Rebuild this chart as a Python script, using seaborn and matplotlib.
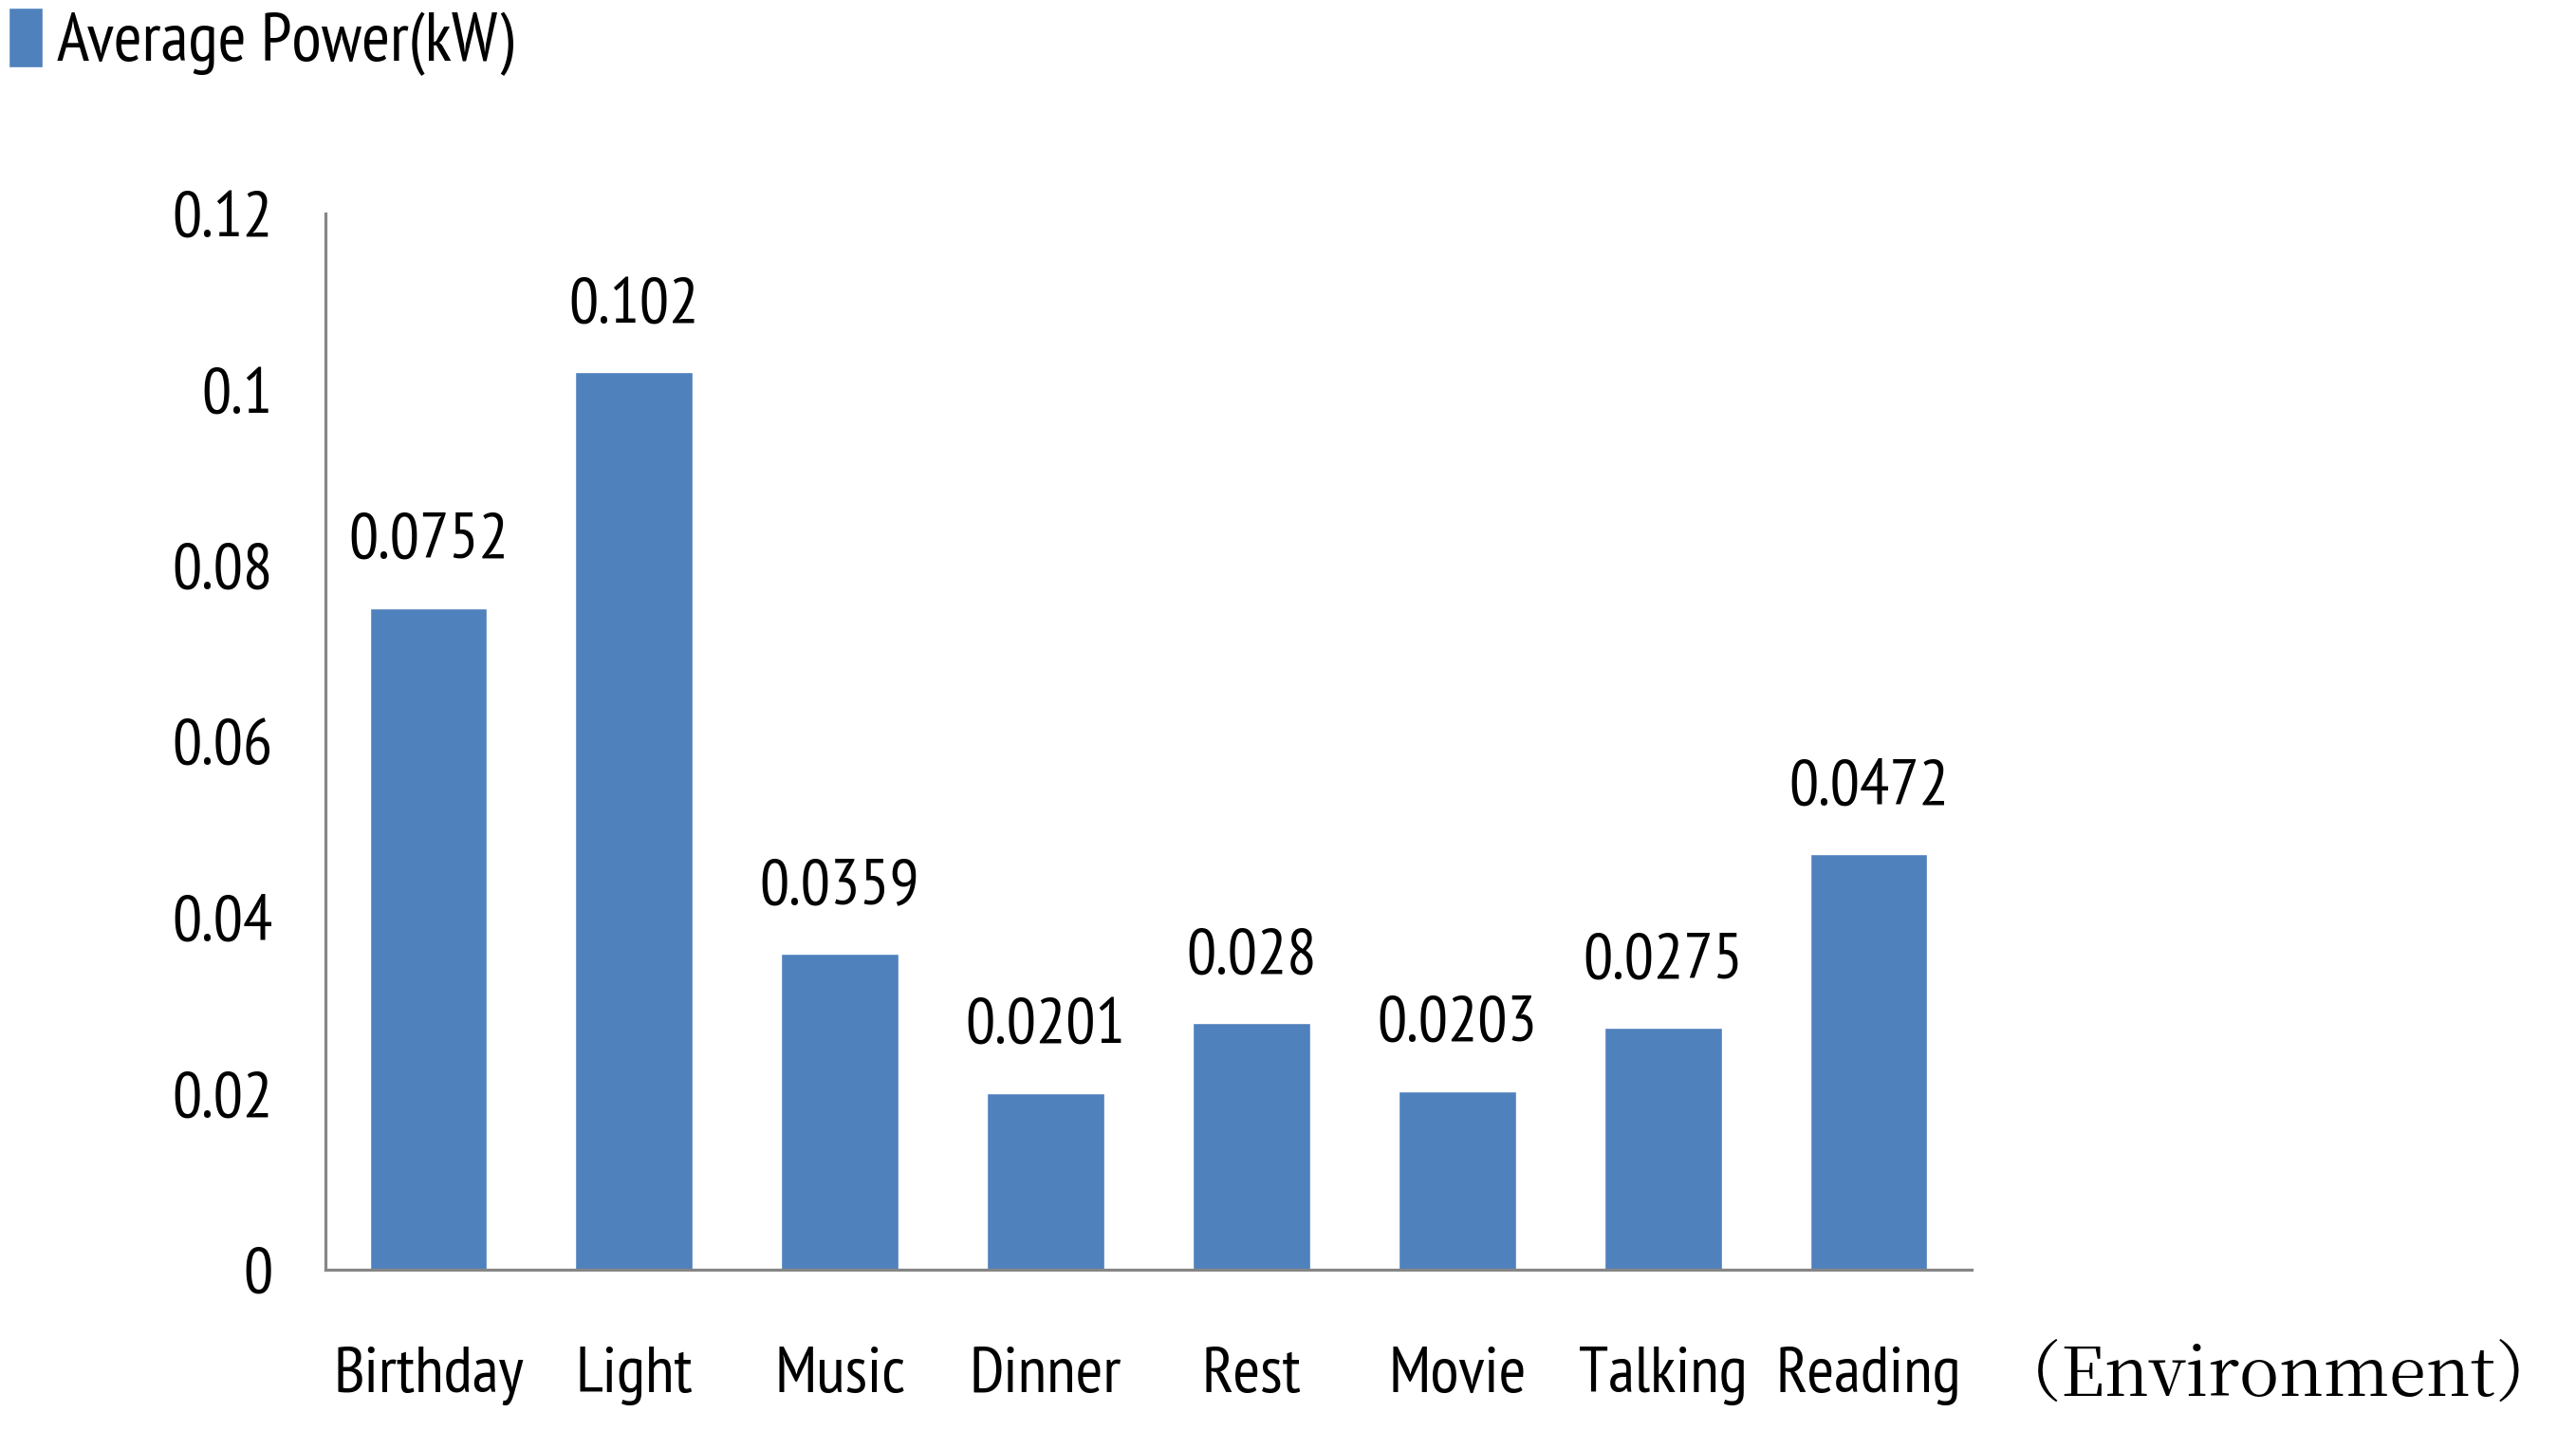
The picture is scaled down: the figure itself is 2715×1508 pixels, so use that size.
import matplotlib
matplotlib.use('Agg')
import matplotlib.pyplot as plt
import seaborn as sns
import pandas as pd

# data
environments = ['Birthday', 'Light', 'Music', 'Dinner', 'Rest', 'Movie', 'Talking', 'Reading']
avg_power = [0.0752, 0.102, 0.0359, 0.0201, 0.028, 0.0203, 0.0275, 0.0472]
y_ticks = [0, 0.02, 0.04, 0.06, 0.08, 0.1, 0.12]
series_name = 'Average Power(kW)'
x_name = '（Environment）'

sns.set_theme(style='white')
plt.rcParams['font.family'] = ['PT Sans Narrow', 'Carlito', 'DejaVu Sans']

df = pd.DataFrame({'env': environments, 'power': avg_power})

fig = plt.figure(figsize=(27.15, 15.08), dpi=100)
ax = fig.add_axes([0.1263, 0.1127, 0.7654 - 0.1263, 0.8508 - 0.1127])

sns.barplot(data=df, x='env', y='power', color='#4F81BD', saturation=1,
            width=0.57, label=series_name, ax=ax)

ax.bar_label(ax.containers[0], labels=[f'{v:g}' for v in avg_power],
             padding=28, fontsize=50, color='black')

ax.set_ylim(0, 0.12)
ax.set_xlim(-0.5, len(environments) - 0.5)
ax.set_yticks(y_ticks)
ax.set_yticklabels([f'{t:g}' for t in y_ticks])
ax.tick_params(axis='y', labelsize=50, length=0, pad=40, colors='black')
ax.tick_params(axis='x', labelsize=50, length=0, pad=58, colors='black')
ax.set_xlabel('')
ax.set_ylabel('')

for side in ['top', 'right']:
    ax.spines[side].set_visible(False)
for side in ['left', 'bottom']:
    ax.spines[side].set_color('#868686')
    ax.spines[side].set_linewidth(2.3)

handles, labels = ax.get_legend_handles_labels()
if ax.get_legend() is not None:
    ax.get_legend().remove()
fig.legend(handles, labels, loc='upper left', bbox_to_anchor=(-0.002, 1.004),
           frameon=False, fontsize=52, labelcolor='black', handlelength=0.5,
           handleheight=0.95, handletextpad=0.2, borderaxespad=0.1, borderpad=0.1)

# axis name sits at the right end, below the tick labels
fig.text(0.995, 0.038, x_name, fontsize=51, ha='right', va='center', color='black',
         family=['Noto Serif CJK JP', 'Liberation Serif', 'DejaVu Serif'])

fig.savefig('out.png', dpi=100)
